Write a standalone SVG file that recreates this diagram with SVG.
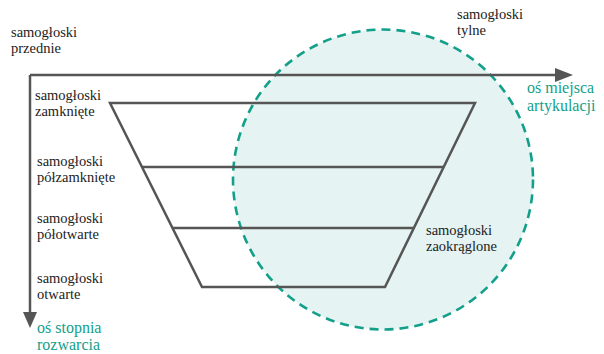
<svg xmlns="http://www.w3.org/2000/svg" width="604" height="354" viewBox="0 0 604 354">
<style>
text{font-family:'Liberation Serif','Times New Roman',serif}
.t{font-size:14.5px;fill:#222}
.a{font-size:16px;fill:#13a08a}
.ln{stroke:#555;stroke-width:2.5;fill:none}
.dash{fill:#e5f3f2;stroke:#13a08a;stroke-width:2.6;stroke-dasharray:9 6}
.head{fill:#555}
</style>
<rect width="604" height="354" fill="#fff"/>
<g id="rounded-zone">
<circle class="dash" cx="383" cy="179.5" r="150"/>
</g>
<g id="connectors">
<path class="ln" d="M30,75 H557"/>
<path class="head" d="M555,68 L573,75 L555,82 Z"/>
<path class="ln" d="M30,75 V314"/>
<path class="head" d="M23,312 L30,328 L37,312 Z"/>
</g>
<g id="trapezoid">
<path class="ln" d="M110,103 H475 L385,287 H202 Z"/>
<path class="ln" d="M142,167 H444"/>
<path class="ln" d="M172.5,228 H414"/>
</g>
<g id="front"><text class="t" x="11" y="37">samogłoski</text><text class="t" x="11" y="53">przednie</text></g>
<g id="back"><text class="t" x="457" y="19">samogłoski</text><text class="t" x="457" y="35">tylne</text></g>
<g id="closed"><text class="t" x="35" y="100">samogłoski</text><text class="t" x="35" y="116">zamknięte</text></g>
<g id="close-mid"><text class="t" x="37" y="166">samogłoski</text><text class="t" x="37" y="182">półzamknięte</text></g>
<g id="open-mid"><text class="t" x="37" y="223">samogłoski</text><text class="t" x="37" y="239">półotwarte</text></g>
<g id="open"><text class="t" x="37" y="283">samogłoski</text><text class="t" x="37" y="299">otwarte</text></g>
<g id="rounded"><text class="t" x="426" y="235">samogłoski</text><text class="t" x="426" y="251">zaokrąglone</text></g>
<g id="axis-x-label"><text class="a" x="527" y="93">oś miejsca</text><text class="a" x="527" y="111">artykulacji</text></g>
<g id="axis-y-label"><text class="a" x="37" y="333">oś stopnia</text><text class="a" x="37" y="350">rozwarcia</text></g>
</svg>
